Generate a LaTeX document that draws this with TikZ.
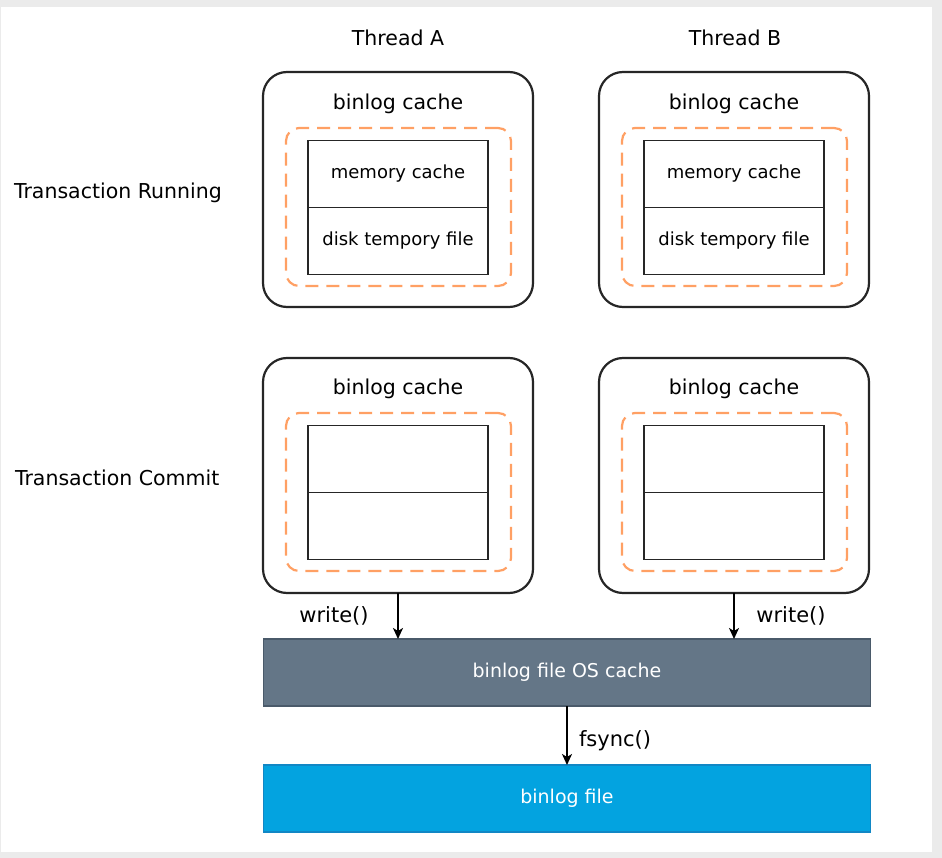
\documentclass[tikz,border=0pt]{standalone}
\usepackage{fontspec}
\setmainfont{DejaVu Sans}
\usetikzlibrary{arrows.meta}
\definecolor{bordergray}{HTML}{EBEBEB}
\definecolor{dashorange}{RGB}{255,160,100}
\definecolor{osfill}{HTML}{647687}
\definecolor{osdraw}{HTML}{4A5A6A}
\definecolor{filefill}{HTML}{03A3E0}
\definecolor{filedraw}{HTML}{1187C5}
\tikzset{
  every node/.style={inner sep=0pt, outer sep=0pt},
  big/.style={font=\fontsize{20.5}{24}\selectfont},
  lbl/.style={font=\fontsize{21}{25}\selectfont},
  small/.style={font=\fontsize{18}{22}\selectfont},
  bartext/.style={font=\fontsize{19}{23}\selectfont},
  outerbox/.style={draw=black!85, line width=2.2pt, rounded corners=24pt,
    minimum width=270pt, minimum height=235pt},
  dashbox/.style={draw=dashorange, line width=2.2pt, rounded corners=13pt,
    dash pattern=on 13pt off 8pt, minimum width=225pt, minimum height=158pt},
  cell/.style={draw=black!85, line width=1.9pt, minimum width=180pt,
    minimum height=67pt, small},
  bar/.style={line width=1.8pt, minimum width=607pt, minimum height=67pt,
    text=white, bartext},
  flow/.style={draw=black, line width=1.8pt,
    -{Stealth[length=11pt,width=10pt,inset=3pt]}}
}
\begin{document}
\begin{tikzpicture}[x=1pt,y=-1pt]
\useasboundingbox (0,0) rectangle (942,858);
\fill[bordergray] (0,0) rectangle (942,858);
\fill[white] (1,7) rectangle (932,852);

% headers
\node[big] (thA) at (398,38) {Thread A};
\node[big] (thB) at (735,38) {Thread B};
\node[big, anchor=west] (run) at (14,193) {Transaction Running};
\node[big, anchor=west] (com) at (15,478) {Transaction Commit};

% row 1
\node[outerbox] (A1) at (398,189.5) {};
\node[outerbox] (B1) at (734,189.5) {};
\node[big] (A1t) at (398,104) {binlog cache};
\node[big] (B1t) at (734,104) {binlog cache};
\node[dashbox] (A1d) at (398.5,207) {};
\node[dashbox] (B1d) at (734.5,207) {};
\node[cell] (A1m) at (398,174) {memory cache};
\node[cell] (A1f) at (398,241) {disk tempory file};
\node[cell] (B1m) at (734,174) {memory cache};
\node[cell] (B1f) at (734,241) {disk tempory file};

% row 2
\node[outerbox] (A2) at (398,475.5) {};
\node[outerbox] (B2) at (734,475.5) {};
\node[big] (A2t) at (398,389) {binlog cache};
\node[big] (B2t) at (734,389) {binlog cache};
\node[dashbox] (A2d) at (398.5,492) {};
\node[dashbox] (B2d) at (734.5,492) {};
\node[cell] (A2m) at (398,459) {};
\node[cell] (A2f) at (398,526) {};
\node[cell] (B2m) at (734,459) {};
\node[cell] (B2f) at (734,526) {};

% bars
\node[bar, fill=osfill, draw=osdraw] (os) at (567,672.5) {binlog file OS cache};
\node[bar, fill=filefill, draw=filedraw] (file) at (567,798.5) {binlog file};

% connectors
\draw[flow] (A2.south) -- (os.north -| A2.south);
\draw[flow] (B2.south) -- (os.north -| B2.south);
\draw[flow] (os.south) -- (file.north);

\node[lbl] (wA) at (334,616) {write()};
\node[lbl] (wB) at (791,616) {write()};
\node[lbl, anchor=west] (fs) at (579,741) {fsync()};
\end{tikzpicture}
\end{document}
